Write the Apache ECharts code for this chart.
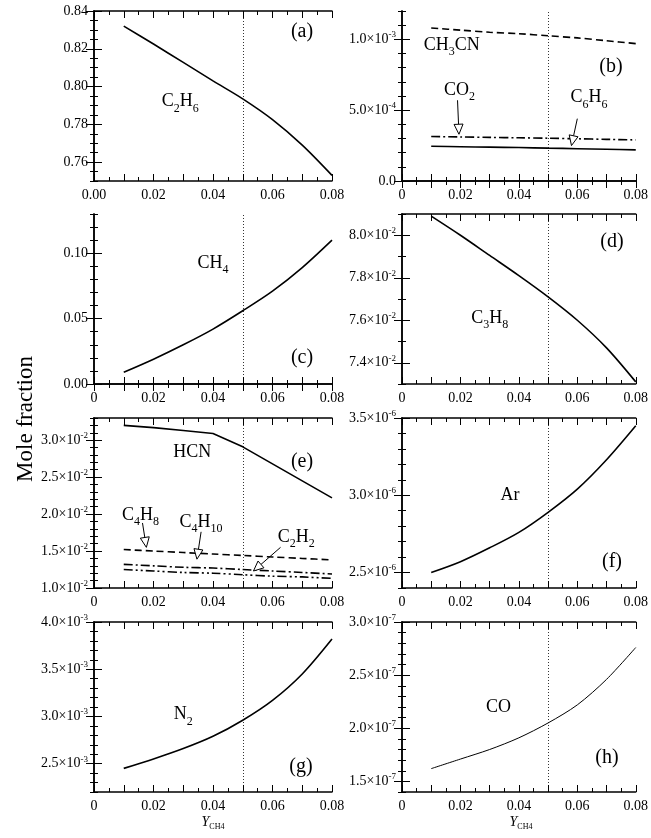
<!DOCTYPE html>
<html><head><meta charset="utf-8">
<script src="https://cdn.jsdelivr.net/npm/echarts@6/dist/echarts.min.js"></script>
<style>html,body{margin:0;background:#fff}#c{width:651px;height:838px}</style>
</head><body><div id="c"></div>
<script>
var X = [0.01, 0.02, 0.03, 0.04, 0.05, 0.06, 0.07, 0.08];
var c2h6 = [0.832, 0.8225, 0.8128, 0.803, 0.7935, 0.7825, 0.769, 0.753];
var ch3cn = [1.08e-3, 1.065e-3, 1.05e-3, 1.04e-3, 1.025e-3, 1.01e-3, 0.99e-3, 0.97e-3];
var co2 = [3.14e-4, 3.11e-4, 3.08e-4, 3.05e-4, 3.02e-4, 2.98e-4, 2.94e-4, 2.90e-4];
var c6h6 = [2.45e-4, 2.42e-4, 2.39e-4, 2.36e-4, 2.32e-4, 2.28e-4, 2.24e-4, 2.2e-4];
var ch4 = [0.009, 0.019, 0.030, 0.042, 0.056, 0.071, 0.089, 0.110];
var c3h8 = [8.09e-2, 8.00e-2, 7.905e-2, 7.81e-2, 7.71e-2, 7.60e-2, 7.47e-2, 7.31e-2];
var hcn = [3.20e-2, 3.17e-2, 3.13e-2, 3.09e-2, 2.91e-2, 2.68e-2, 2.45e-2, 2.22e-2];
var c4h8 = [1.52e-2, 1.50e-2, 1.48e-2, 1.46e-2, 1.44e-2, 1.42e-2, 1.40e-2, 1.38e-2];
var c4h10 = [1.32e-2, 1.30e-2, 1.28e-2, 1.27e-2, 1.25e-2, 1.23e-2, 1.21e-2, 1.19e-2];
var c2h2 = [1.25e-2, 1.23e-2, 1.21e-2, 1.20e-2, 1.18e-2, 1.16e-2, 1.15e-2, 1.13e-2];
var ar = [2.50e-6, 2.57e-6, 2.66e-6, 2.76e-6, 2.89e-6, 3.04e-6, 3.23e-6, 3.45e-6];
var n2 = [2.45e-3, 2.55e-3, 2.66e-3, 2.79e-3, 2.96e-3, 3.17e-3, 3.45e-3, 3.82e-3];
var co = [1.62e-7, 1.71e-7, 1.80e-7, 1.91e-7, 2.05e-7, 2.22e-7, 2.46e-7, 2.76e-7];
var refX = 0.049;

// y tick labels per panel: [value, mantissa, exponent] (exponent missing = plain)
var yLabels = [
  [[0.76, '0.76'], [0.78, '0.78'], [0.80, '0.80'], [0.82, '0.82'], [0.84, '0.84']],
  [[0, '0.0'], [5e-4, '5.0', -4], [1e-3, '1.0', -3]],
  [[0, '0.00'], [0.05, '0.05'], [0.10, '0.10']],
  [[0.074, '7.4', -2], [0.076, '7.6', -2], [0.078, '7.8', -2], [0.080, '8.0', -2]],
  [[0.010, '1.0', -2], [0.015, '1.5', -2], [0.020, '2.0', -2], [0.025, '2.5', -2], [0.030, '3.0', -2]],
  [[2.5e-6, '2.5', -6], [3.0e-6, '3.0', -6], [3.5e-6, '3.5', -6]],
  [[2.5e-3, '2.5', -3], [3.0e-3, '3.0', -3], [3.5e-3, '3.5', -3], [4.0e-3, '4.0', -3]],
  [[1.5e-7, '1.5', -7], [2.0e-7, '2.0', -7], [2.5e-7, '2.5', -7], [3.0e-7, '3.0', -7]]
];
var yRange = [[0.75, 0.84], [0, 1.2e-3], [0, 0.13], [0.073, 0.081], [0.010, 0.033],
  [2.4e-6, 3.5e-6], [2.2e-3, 4.0e-3], [1.4e-7, 3.0e-7]];
var yMinorStep = [0.005, 1e-4, 0.01, 0.001, 0.001, 0.1e-6, 0.1e-3, 0.1e-7];
var xLabels = [0, 0.02, 0.04, 0.06, 0.08];

var FONT = 'Liberation Serif';
var lefts = [94, 402], tops = [11, 214, 418, 622], W = 238, H = 170;

function steps(min, max, st) {
  var out = [];
  var s0 = Math.ceil(min / st - 1e-6);
  for (var k = s0; k * st <= max * (1 + 1e-9) + 1e-18; k++) out.push(+(k * st).toPrecision(10));
  return out;
}

var rich = {
  m: {fontFamily: FONT, fontSize: 14, color: '#000'},
  e: {fontFamily: FONT, fontSize: 9, color: '#000', verticalAlign: 'top', padding: [0, 0, 9, 0]}
};
var lineS = {color: '#000', width: 1.5};
var grids = [], xAxes = [], yAxes = [], series = [];
yRange.forEach(function (r, i) {
  var col = i % 2, row = Math.floor(i / 2);
  grids.push({left: lefts[col], top: tops[row], width: W, height: H});
  var xMaj = steps(0, 0.08, 0.01), xMin = steps(0, 0.08, 0.005);
  var yMaj = yLabels[i].map(function (l) { return l[0]; }), yMin = steps(r[0], r[1], yMinorStep[i]);
  ['bottom', 'top'].forEach(function (pos) {
    xAxes.push({gridIndex: i, type: 'value', min: 0, max: 0.08, position: pos,
      axisLine: {lineStyle: lineS}, splitLine: {show: false},
      axisTick: {inside: true, length: 7, customValues: xMaj, lineStyle: {color: '#000'}},
      axisLabel: pos === 'bottom' ? {fontFamily: FONT, fontSize: 14, color: '#000', margin: 7, customValues: xLabels,
        formatter: function (v) { if (Math.abs(v) < 1e-9) return i === 0 ? '0.00' : '0'; return v.toFixed(2); }} : {show: false}});
    xAxes.push({gridIndex: i, type: 'value', min: 0, max: 0.08, position: pos,
      axisLine: {show: false}, splitLine: {show: false}, axisLabel: {show: false},
      axisTick: {inside: true, length: 4, customValues: xMin, lineStyle: {color: '#000'}}});
  });
  ['left', 'right'].forEach(function (pos) {
    yAxes.push({gridIndex: i, type: 'value', min: r[0], max: r[1], position: pos,
      axisLine: {show: true, lineStyle: lineS}, splitLine: {show: false},
      axisTick: {show: true, inside: true, length: 8, customValues: yMaj, lineStyle: {color: '#000'}},
      axisLabel: pos === 'left' ? {fontFamily: FONT, fontSize: 14, color: '#000', margin: 6, customValues: yMaj, rich: rich,
        formatter: function (v) {
          var l = yLabels[i].filter(function (q) { return Math.abs(q[0] - v) <= Math.abs(v) * 1e-6 + 1e-15; })[0];
          if (!l) return '';
          return l[2] == null ? l[1] : '{m|' + l[1] + '×10}{e|' + l[2] + '}';
        }} : {show: false}});
    yAxes.push({gridIndex: i, type: 'value', min: r[0], max: r[1], position: pos,
      axisLine: {show: false}, splitLine: {show: false}, axisLabel: {show: false},
      axisTick: {show: true, inside: true, length: 4, customValues: yMin, lineStyle: {color: '#000'}}});
  });
});

function pairs(ys) { return X.map(function (x, k) { return [x, ys[k]]; }); }
function line(i, ys, type, width, smooth) {
  return {type: 'line', xAxisIndex: 4 * i, yAxisIndex: 4 * i, data: pairs(ys), showSymbol: false,
    smooth: smooth === undefined ? 0.3 : smooth,
    lineStyle: {color: '#000', width: width || 1.6, type: type || 'solid'}, silent: true};
}
var dash = [7, 4], dashDot = [9, 3, 2, 3], dashDotDot = [9, 3, 2, 3, 2, 3];
series.push(line(0, c2h6));
series.push(line(1, ch3cn, dash));
series.push(line(1, co2, dashDot));
series.push(line(1, c6h6));
series.push(line(2, ch4));
series.push(line(3, c3h8));
series.push(line(4, hcn, 'solid', 1.6, false));
series.push(line(4, c4h8, dash));
series.push(line(4, c4h10, dashDot));
series.push(line(4, c2h2, dashDotDot));
series.push(line(5, ar));
series.push(line(6, n2));
series.push(line(7, co, 'solid', 1));
for (var i = 0; i < 8; i++) {
  series.push({type: 'line', xAxisIndex: 4 * i, yAxisIndex: 4 * i, data: [], silent: true,
    markLine: {symbol: 'none', silent: true, label: {show: false},
      lineStyle: {color: '#000', type: [1, 2], width: 0.8}, data: [{xAxis: refX}]}});
}

var chart = echarts.init(document.getElementById('c'));
chart.setOption({animation: false, grid: grids, xAxis: xAxes, yAxis: yAxes, series: series});

var labels = [
  [0, 0.029, 0.792, [['C', 'n'], ['2', 's'], ['H', 'n'], ['6', 's']]],
  [1, 0.017, 0.96e-3, [['CH', 'n'], ['3', 's'], ['CN', 'n']]],
  [1, 0.0197, 0.64e-3, [['CO', 'n'], ['2', 's']]],
  [1, 0.064, 0.59e-3, [['C', 'n'], ['6', 's'], ['H', 'n'], ['6', 's']]],
  [2, 0.040, 0.0925, [['CH', 'n'], ['4', 's']]],
  [3, 0.030, 7.61e-2, [['C', 'n'], ['3', 's'], ['H', 'n'], ['8', 's']]],
  [4, 0.033, 2.84e-2, [['HCN', 'n']]],
  [4, 0.0156, 1.99e-2, [['C', 'n'], ['4', 's'], ['H', 'n'], ['8', 's']]],
  [4, 0.036, 1.89e-2, [['C', 'n'], ['4', 's'], ['H', 'n'], ['10', 's']]],
  [4, 0.068, 1.69e-2, [['C', 'n'], ['2', 's'], ['H', 'n'], ['2', 's']]],
  [5, 0.037, 3.0e-6, [['Ar', 'n']]],
  [6, 0.030, 3.02e-3, [['N', 'n'], ['2', 's']]],
  [7, 0.033, 2.2e-7, [['CO', 'n']]]
];
var arrows = [
  [1, 0.019, 0.57e-3, 0.0195, 0.33e-3],
  [1, 0.060, 0.44e-3, 0.058, 0.25e-3],
  [4, 0.0163, 1.88e-2, 0.0176, 1.55e-2],
  [4, 0.036, 1.76e-2, 0.0346, 1.39e-2],
  [4, 0.0627, 1.55e-2, 0.0536, 1.23e-2]
];
var letters = [['(a)', 30, 21], ['(b)', 29, 56], ['(c)', 30, -26], ['(d)', 28, 28],
  ['(e)', 30, 44], ['(f)', 28, -26], ['(g)', 31, -25], ['(h)', 33, -34]];

var tRich = {
  n: {fontFamily: FONT, fontSize: 18, fill: '#000', lineHeight: 20},
  s: {fontFamily: FONT, fontSize: 12, fill: '#000', lineHeight: 20, padding: [14, 0, 0, 0]}
};
var g = [];
labels.forEach(function (L) {
  var p = chart.convertToPixel({gridIndex: L[0]}, [L[1], L[2]]);
  var txt = L[3].map(function (t) { return '{' + t[1] + '|' + t[0] + '}'; }).join('');
  g.push({type: 'text', x: p[0], y: p[1], style: {text: txt, rich: tRich, align: 'center', verticalAlign: 'middle'}});
});
arrows.forEach(function (A) {
  var p0 = chart.convertToPixel({gridIndex: A[0]}, [A[1], A[2]]);
  var p1 = chart.convertToPixel({gridIndex: A[0]}, [A[3], A[4]]);
  var dx = p1[0] - p0[0], dy = p1[1] - p0[1], len = Math.sqrt(dx * dx + dy * dy);
  var ux = dx / len, uy = dy / len, hl = 10, hw = 4.5;
  var bx = p1[0] - ux * hl, by = p1[1] - uy * hl;
  g.push({type: 'line', shape: {x1: p0[0], y1: p0[1], x2: bx, y2: by}, style: {stroke: '#000', lineWidth: 1}});
  g.push({type: 'polygon', shape: {points: [[p1[0], p1[1]], [bx - uy * hw, by + ux * hw], [bx + uy * hw, by - ux * hw]]},
    style: {fill: '#fff', stroke: '#000', lineWidth: 1}, z: 10});
});
letters.forEach(function (Lt, i) {
  var col = i % 2, row = Math.floor(i / 2);
  var x = lefts[col] + W - Lt[1];
  var y = Lt[2] > 0 ? tops[row] + Lt[2] : tops[row] + H + Lt[2];
  g.push({type: 'text', x: x, y: y, style: {text: Lt[0], font: '20px ' + FONT, fill: '#000', align: 'center', verticalAlign: 'middle'}});
});
g.push({type: 'text', x: 26, y: 419, rotation: Math.PI / 2,
  style: {text: 'Mole fraction', font: '23px ' + FONT, fill: '#000', align: 'center', verticalAlign: 'middle'}});
var yRich = {
  y: {fontFamily: FONT, fontSize: 14, fontStyle: 'italic', fill: '#000', lineHeight: 16},
  s: {fontFamily: FONT, fontSize: 8, fill: '#000', lineHeight: 16, padding: [10, 0, 0, 0]}
};
lefts.forEach(function (l) {
  g.push({type: 'text', x: l + W / 2, y: 822, style: {text: '{y|Y}{s|CH}{s|4}', rich: yRich, align: 'center', verticalAlign: 'middle'}});
});
chart.setOption({graphic: g});
</script>
</body></html>
